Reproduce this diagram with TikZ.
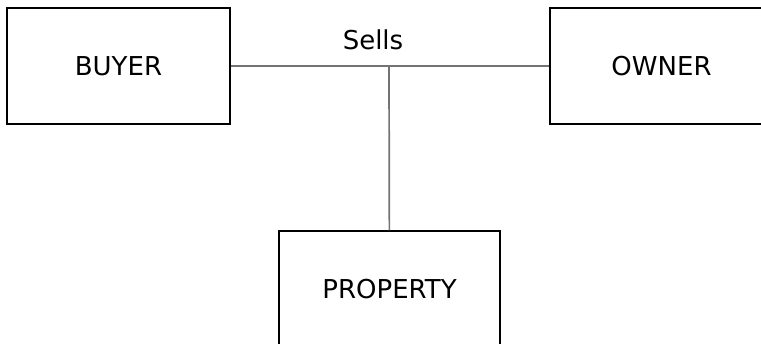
\documentclass[tikz,border=0pt]{standalone}
\usepackage{fontspec}
\setmainfont{DejaVu Sans}
\begin{document}
\begin{tikzpicture}[x=1pt,y=-1pt,thick,entity node/.style={rectangle,draw=black,line width=1.5pt,minimum width=223pt,minimum height=116pt,font=\fontsize{26}{30}\selectfont},link/.style={draw=black!55,line width=1.7pt}]
 		\useasboundingbox (0,0) rectangle (761,343);
 		\clip (0,0) rectangle (761,343);
 		\node[entity node] (buyer) at (118.5,66) {BUYER};
 		\node[entity node] (owner) at (661.5,66) {OWNER};
 		\node[entity node,minimum width=221pt] (property) at (389.5,289) {PROPERTY};
 		\coordinate (join) at (389,66);
 		\node[font=\fontsize{26}{30}\selectfont] (sells) at (373,40) {Sells};
 		
 		\path[link]
 		(buyer) edge (owner)
 		(join) edge (property)
 		;
 		\end{tikzpicture}
\end{document}
